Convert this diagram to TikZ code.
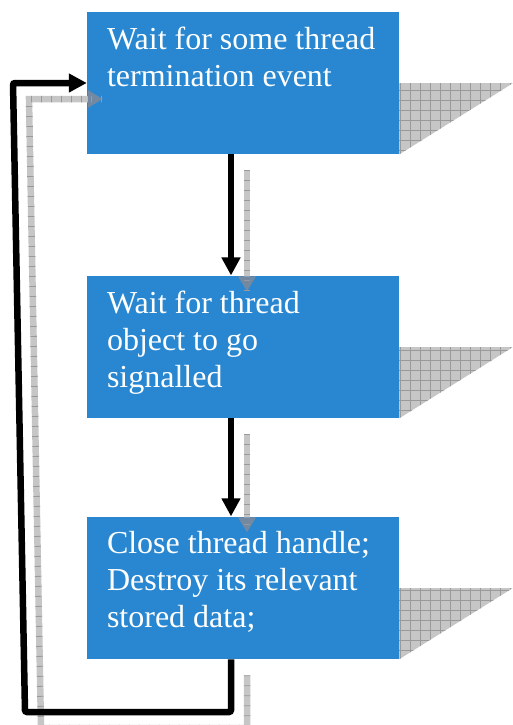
\documentclass[tikz,border=0pt]{standalone}
\usepackage{fontspec}
\setmainfont{Liberation Serif}
\newfontfamily\taskfont{Liberation Serif}
\usepackage{tikz}
\usetikzlibrary{arrows.meta,positioning}
\definecolor{taskblue}{HTML}{2887D0}
\definecolor{shadowgrey}{HTML}{C6C6C6}
\definecolor{shadowtick}{HTML}{9A9A9A}
\definecolor{shadowtip}{HTML}{7389A2}

\begin{document}
\begin{tikzpicture}[x=1pt,y=-1pt]
  \tikzstyle{task}=[fill=taskblue, minimum width=312pt, minimum height=142.5pt, inner sep=0pt]
  \tikzstyle{tasktext}=[text=white, align=left, inner sep=0pt, font=\taskfont\fontsize{32}{37}\selectfont]
  \tikzstyle{flow}=[-{Triangle[length=18pt,width=18pt]}, line width=6.5pt, rounded corners=2pt]
  \tikzstyle{shadowflow}=[-{Triangle[length=15pt,width=17pt,color=shadowtip]}, line width=6.5pt, draw=shadowgrey,
    postaction={draw=shadowtick, -, line width=6.5pt, dash pattern=on 0.8pt off 9.2pt}]
  \tikzstyle{shadowgrid}=[draw=shadowtick, line width=0.8pt, step=10pt]

  \useasboundingbox (0,0) rectangle (513,725);
  \clip (0,0) rectangle (513,725);

  \node[task] (wait) at (243,83) {};
  \node[task, below=121pt of wait] (signal) {};
  \node[task, below=98pt of signal] (close) {};

  \node[tasktext, below right=15pt and 20pt of wait.north west] (waittext) {Wait for some thread\\termination event};
  \node[tasktext, below right=15pt and 20pt of signal.north west] (signaltext) {Wait for thread\\object to go\\signalled};
  \node[tasktext, below right=15pt and 20pt of close.north west] (closetext) {Close thread handle;\\Destroy its relevant\\stored data;};

  % shadows to the right of the boxes
  \begin{scope}
    \clip (wait.east) -- ++(114,0) -- (wait.south east) -- cycle;
    \fill[shadowgrey] (wait.east) rectangle ++(114,72);
    \draw[shadowgrid] (wait.east) grid ++(114,72);
  \end{scope}
  \begin{scope}
    \clip (signal.east) -- ++(114,0) -- (signal.south east) -- cycle;
    \fill[shadowgrey] (signal.east) rectangle ++(114,72);
    \draw[shadowgrid] (signal.east) grid ++(114,72);
  \end{scope}
  \begin{scope}
    \clip (close.east) -- ++(114,0) -- (close.south east) -- cycle;
    \fill[shadowgrey] (close.east) rectangle ++(114,72);
    \draw[shadowgrid] (close.east) grid ++(114,72);
  \end{scope}

  \coordinate (loopbr) at (231,712);
  \coordinate (loopbl) at (25,712);
  \coordinate (looptl) at (13,83);

  % shadows of the connectors
  \begin{scope}[transform canvas={xshift=16pt,yshift=-16pt}]
    \draw[shadowflow] ([xshift=-12pt]wait.south) -- ([xshift=-12pt]signal.north);
    \draw[shadowflow] ([xshift=-12pt]signal.south) -- ([xshift=-12pt]close.north);
    \draw[shadowflow] ([xshift=-12pt]close.south) -- (loopbr) -- (loopbl) -- (looptl) -- (wait.west);
  \end{scope}

  \draw[flow] ([xshift=-12pt]wait.south) -- ([xshift=-12pt]signal.north);
  \draw[flow] ([xshift=-12pt]signal.south) -- ([xshift=-12pt]close.north);
  \draw[flow] ([xshift=-12pt]close.south) -- (loopbr) -- (loopbl) -- (looptl) -- (wait.west);
\end{tikzpicture}
\end{document}
